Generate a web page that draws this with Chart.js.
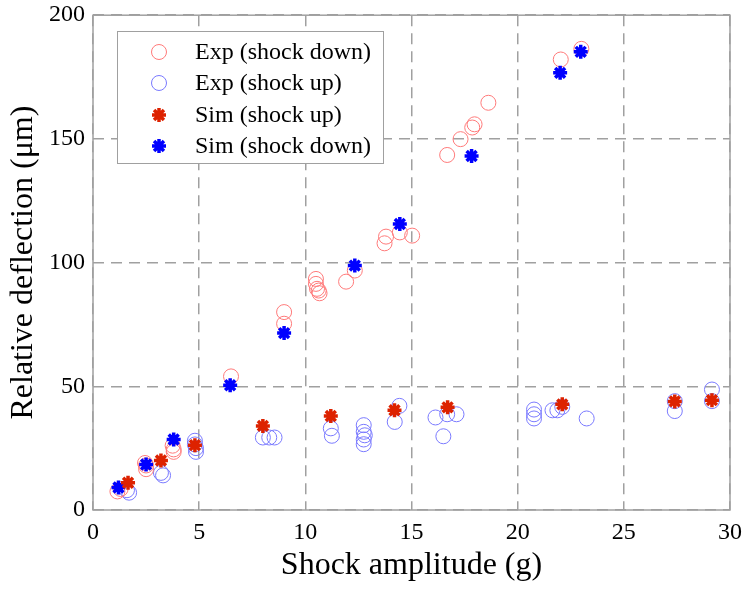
<!DOCTYPE html>
<html>
<head>
<meta charset="utf-8">
<script src="https://cdn.jsdelivr.net/npm/chart.js@4/dist/chart.umd.min.js"></script>
<style>
  html, body { margin: 0; padding: 0; background: #fff; }
  #wrap { width: 750px; height: 591px; }
</style>
</head>
<body>
<div id="wrap"><canvas id="chart" width="750" height="591"></canvas></div>
<script>
// ---- data ----
const expDownX = [1.15, 1.3, 2.45, 2.5, 2.5, 3.75, 3.8, 3.8, 6.5, 9.0, 9.0, 10.5, 10.5, 10.55, 10.63, 10.67, 11.92, 12.33, 13.73, 13.8, 14.45, 15.03, 16.68, 17.31, 17.86, 17.97, 18.62, 22.03, 23.0];
const expDownY = [7.5, 8.5, 19, 18, 16.5, 26, 24.5, 23.5, 54, 80, 75.3, 93.4, 91.4, 89.4, 88.7, 87.6, 92.3, 96.8, 107.8, 110.5, 112.2, 110.9, 143.5, 149.9, 154.6, 155.9, 164.6, 182.1, 186.4];

const expUpX = [1.6, 1.7, 3.2, 3.3, 4.8, 4.8, 4.85, 4.85, 8.0, 8.3, 8.55, 11.2, 11.25, 12.75, 12.75, 12.8, 12.75, 12.75, 14.43, 14.21, 16.13, 16.68, 17.12, 16.5, 20.77, 20.77, 20.77, 21.64, 21.87, 22.1, 23.25, 27.4, 27.4, 29.15, 29.15];
const expUpY = [8, 7, 15, 14, 28, 26.5, 25, 23.5, 29.3, 29.3, 29.3, 33, 30, 34.3, 31.6, 30.2, 28.5, 26.6, 42.1, 35.6, 37.4, 38.7, 38.7, 29.8, 40.6, 38.7, 37, 40.3, 40.3, 41.7, 37, 40, 44, 48.7, 44];

const simUpX = [1.65, 3.2, 4.8, 8.0, 11.2, 14.2, 16.7, 22.1, 27.4, 29.15];
const simUpY = [11, 20, 26.2, 34, 38, 40.3, 41.5, 42.7, 43.9, 44.4];

const simDownX = [1.2, 2.5, 3.8, 6.46, 9.0, 12.33, 14.45, 17.83, 22.0, 22.97];
const simDownY = [9.1, 18.4, 28.5, 50.4, 71.5, 98.8, 115.6, 143.1, 176.7, 185.2];

const xTicks = [0, 5, 10, 15, 20, 25, 30];
const yTicks = [0, 50, 100, 150, 200];

const seriesLabels = ["Exp (shock down)", "Exp (shock up)", "Sim (shock up)", "Sim (shock down)"];

function toPoints(xs, ys) {
  return xs.map((x, i) => ({ x: x, y: ys[i] }));
}

const serif = "'Liberation Serif', 'DejaVu Serif', serif";

// box around the plot area + legend drawn inside it
const boxPlugin = {
  id: 'boxPlugin',
  afterDraw(chart) {
    const ctx = chart.ctx;
    const a = chart.chartArea;
    ctx.save();
    ctx.strokeStyle = '#a0a0a0';
    ctx.lineWidth = 1.5;
    ctx.strokeRect(a.left, a.top, a.right - a.left, a.bottom - a.top);

    // legend
    const lx = 117, ly = 31, lw = 266, lh = 132;
    ctx.fillStyle = '#fff';
    ctx.fillRect(lx, ly, lw, lh);
    ctx.strokeStyle = '#a0a0a0';
    ctx.lineWidth = 1;
    ctx.strokeRect(lx + 0.5, ly + 0.5, lw, lh);
    const rowY = [52, 83, 115, 146];
    chart.data.datasets.forEach((ds, i) => {
      ctx.save();
      ctx.strokeStyle = ds.borderColor;
      ctx.fillStyle = ds.backgroundColor;
      ctx.lineWidth = ds.borderWidth;
      Chart.helpers.drawPoint(ctx, { pointStyle: ds.pointStyle, radius: ds.pointRadius, borderWidth: ds.borderWidth }, 159, rowY[i]);
      ctx.restore();
      ctx.fillStyle = '#000';
      ctx.font = '24px ' + serif;
      ctx.textBaseline = 'middle';
      ctx.textAlign = 'left';
      ctx.fillText(ds.label, 195, rowY[i] + 1);
    });
    ctx.restore();
  }
};

const ctx = document.getElementById('chart').getContext('2d');
new Chart(ctx, {
  type: 'scatter',
  data: {
    datasets: [
      {
        label: seriesLabels[0],
        data: toPoints(expDownX, expDownY),
        pointStyle: 'circle',
        pointRadius: 7.5,
        borderWidth: 1,
        borderColor: '#ff7a7a',
        backgroundColor: 'rgba(0,0,0,0)',
        order: 2
      },
      {
        label: seriesLabels[1],
        data: toPoints(expUpX, expUpY),
        pointStyle: 'circle',
        pointRadius: 7.5,
        borderWidth: 1,
        borderColor: '#7a7aff',
        backgroundColor: 'rgba(0,0,0,0)',
        order: 2
      },
      {
        label: seriesLabels[2],
        data: toPoints(simUpX, simUpY),
        pointStyle: 'star',
        pointRadius: 7,
        borderWidth: 3.5,
        borderColor: '#dd2200',
        backgroundColor: '#dd2200',
        order: 1
      },
      {
        label: seriesLabels[3],
        data: toPoints(simDownX, simDownY),
        pointStyle: 'star',
        pointRadius: 7,
        borderWidth: 3.5,
        borderColor: '#0000ff',
        backgroundColor: '#0000ff',
        order: 1
      }
    ]
  },
  options: {
    responsive: false,
    animation: false,
    layout: { autoPadding: false, padding: { top: 15, right: 20, left: 0, bottom: 0 } },
    plugins: {
      legend: { display: false },
      tooltip: { enabled: false }
    },
    scales: {
      x: {
        type: 'linear',
        min: 0,
        max: 30,
        afterBuildTicks(scale) { scale.ticks = xTicks.map(v => ({ value: v })); },
        afterFit(scale) { scale.height = 81; },
        grid: { color: '#a0a0a0', lineWidth: 1.5, tickLength: 0, drawTicks: false },
        border: { display: false, dash: [11, 7] },
        ticks: { color: '#000', font: { family: serif, size: 24 }, padding: 8 },
        title: { display: true, text: 'Shock amplitude (g)', color: '#000', font: { family: serif, size: 32 }, padding: { top: 0, bottom: 6 } }
      },
      y: {
        type: 'linear',
        min: 0,
        max: 200,
        afterBuildTicks(scale) { scale.ticks = yTicks.map(v => ({ value: v })); },
        afterFit(scale) { scale.width = 93; },
        grid: { color: '#a0a0a0', lineWidth: 1.5, tickLength: 0, drawTicks: false },
        border: { display: false, dash: [11, 7] },
        ticks: { color: '#000', font: { family: serif, size: 24, lineHeight: 0.6 }, padding: 8 },
        title: { display: true, text: 'Relative deflection (μm)', color: '#000', font: { family: serif, size: 32 }, padding: { bottom: 4 } }
      }
    }
  },
  plugins: [boxPlugin]
});
</script>
</body>
</html>
